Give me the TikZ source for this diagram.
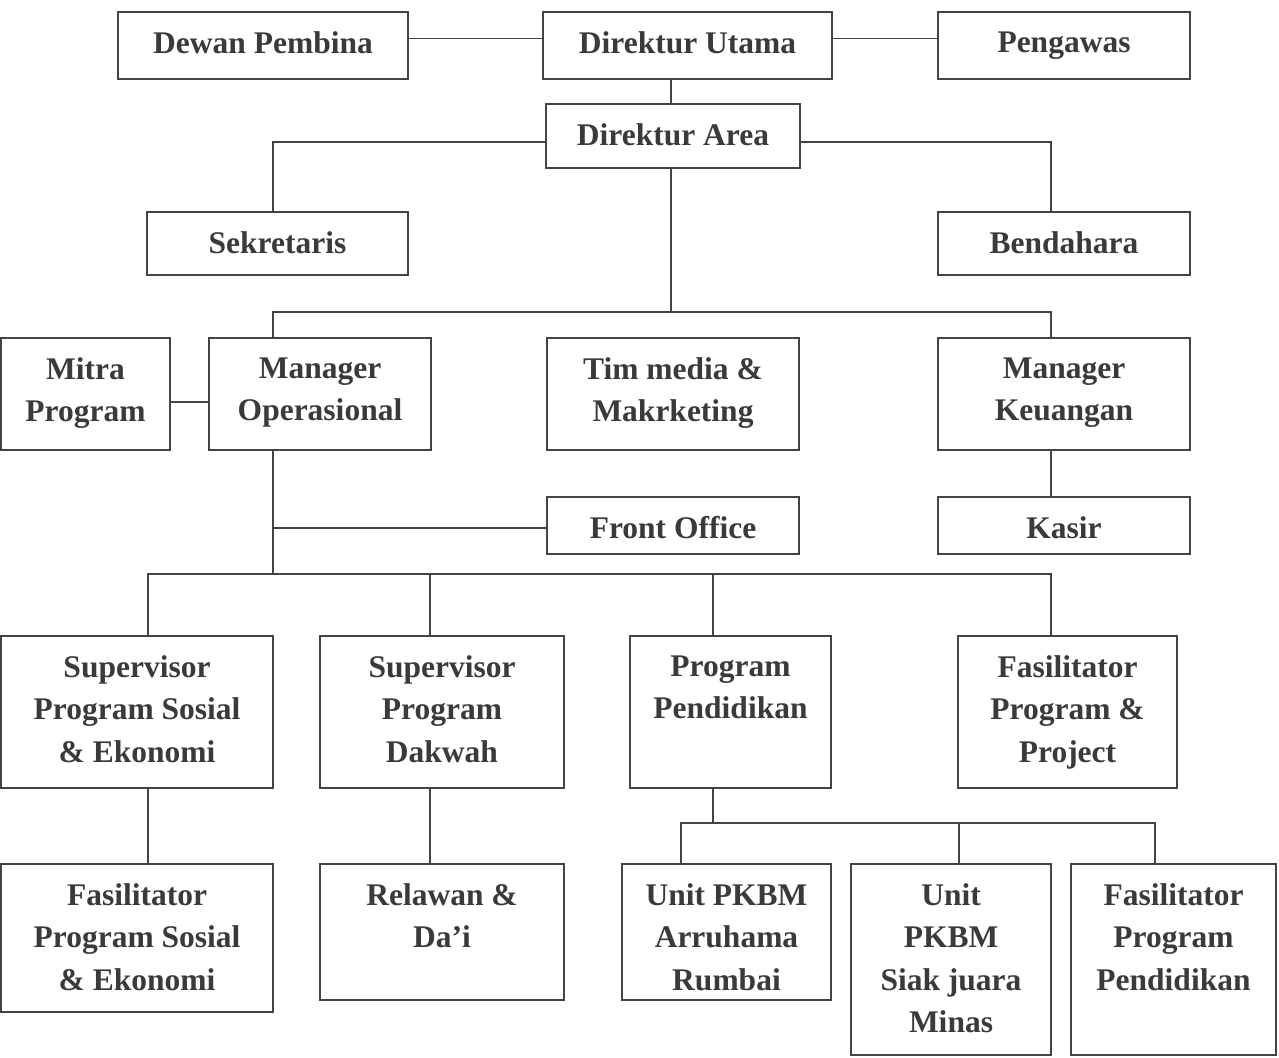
\documentclass[tikz,border=0pt]{standalone}
\usepackage{fontspec}
\setmainfont{Liberation Serif}
\usetikzlibrary{calc}
\definecolor{ink}{HTML}{444444}
\definecolor{txt}{HTML}{3A3A3A}
\begin{document}
\begin{tikzpicture}[x=1pt,y=-1pt,
  box/.style={draw=ink,line width=1.7pt,rectangle,anchor=north west,inner sep=0pt,outer sep=0pt},
  lbl/.style={anchor=north,yshift=-19.4pt,inner sep=0pt,align=center,text=txt,
    font=\fontsize{31.5}{42.5}\selectfont\bfseries},
  con/.style={draw=ink,line width=1.7pt}]
\useasboundingbox (0,0) rectangle (1279,1057);
\fill[white] (0,0) rectangle (1279,1057);
% boxes
\node[box,minimum width=290pt,minimum height=67pt,label={[lbl]north:Dewan Pembina}] (dewan) at (118,12) {};
\node[box,minimum width=289pt,minimum height=67pt,label={[lbl]north:Direktur Utama}] (dirut) at (543,12) {};
\node[box,minimum width=252pt,minimum height=67pt,label={[lbl]north:Pengawas}] (pengawas) at (938,12) {};
\node[box,minimum width=254pt,minimum height=64pt,label={[lbl]north:Direktur Area}] (dirarea) at (546,104) {};
\node[box,minimum width=261pt,minimum height=63pt,label={[lbl]north:Sekretaris}] (sekretaris) at (147,212) {};
\node[box,minimum width=252pt,minimum height=63pt,label={[lbl]north:Bendahara}] (bendahara) at (938,212) {};
\node[box,minimum width=169pt,minimum height=112pt,label={[lbl]north:{Mitra\\Program}}] (mitra) at (1,338) {};
\node[box,minimum width=222pt,minimum height=112pt,label={[lbl]north:{Manager\\Operasional}}] (manop) at (209,338) {};
\node[box,minimum width=252pt,minimum height=112pt,label={[lbl]north:{Tim media \&\\Makrketing}}] (timmedia) at (547,338) {};
\node[box,minimum width=252pt,minimum height=112pt,label={[lbl]north:{Manager\\Keuangan}}] (mankeu) at (938,338) {};
\node[box,minimum width=252pt,minimum height=57pt,label={[lbl]north:Front Office}] (frontoffice) at (547,497) {};
\node[box,minimum width=252pt,minimum height=57pt,label={[lbl]north:Kasir}] (kasir) at (938,497) {};
\node[box,minimum width=272pt,minimum height=152pt,label={[lbl]north:{Supervisor\\Program Sosial\\\& Ekonomi}}] (suppse) at (1,636) {};
\node[box,minimum width=244pt,minimum height=152pt,label={[lbl]north:{Supervisor\\Program\\Dakwah}}] (supdakwah) at (320,636) {};
\node[box,minimum width=201pt,minimum height=152pt,label={[lbl]north:{Program\\Pendidikan}}] (progpend) at (630,636) {};
\node[box,minimum width=219pt,minimum height=152pt,label={[lbl]north:{Fasilitator\\Program \&\\Project}}] (fasilpp) at (958,636) {};
\node[box,minimum width=272pt,minimum height=148pt,label={[lbl]north:{Fasilitator\\Program Sosial\\\& Ekonomi}}] (fasilpse) at (1,864) {};
\node[box,minimum width=244pt,minimum height=136pt,label={[lbl]north:{Relawan \&\\Da’i}}] (relawan) at (320,864) {};
\node[box,minimum width=209pt,minimum height=136pt,label={[lbl]north:{Unit PKBM\\Arruhama\\Rumbai}}] (arruhama) at (622,864) {};
\node[box,minimum width=200pt,minimum height=191pt,label={[lbl]north:{Unit\\PKBM\\Siak juara\\Minas}}] (siak) at (851,864) {};
\node[box,minimum width=205pt,minimum height=191pt,label={[lbl]north:{Fasilitator\\Program\\Pendidikan}}] (fasilpend) at (1071,864) {};
% connectors
\draw[con] ([yshift=7pt]dewan.east) -- ([yshift=7pt]dirut.west);
\draw[con] ([yshift=7pt]dirut.east) -- ([yshift=7pt]pengawas.west);
\draw[con] ([xshift=-2pt]dirarea.north) -- ([xshift=-2pt]dirarea.north |- dirut.south);
\draw[con] ([yshift=-6pt]dirarea.west) -| ([xshift=-4.5pt]sekretaris.north);
\draw[con] ([yshift=-6pt]dirarea.east) -| ([xshift=-13pt]bendahara.north);
\coordinate (j1) at ($(dirarea.south)+(-2,144)$);
\draw[con] ([xshift=-2pt]dirarea.south) -- (j1);
\draw[con] ([xshift=-47pt]manop.north) -- ++(0,-26) -| ([xshift=-13pt]mankeu.north);
\draw[con] ([yshift=-8pt]mitra.east) -- ([yshift=-8pt]manop.west);
\draw[con] ([xshift=-13pt]mankeu.south) -- ([xshift=-13pt]kasir.north);
\coordinate (j2) at ($(manop.south)+(-47,124)$);
\draw[con] ([xshift=-47pt]manop.south) -- (j2);
\draw[con] ([yshift=-2.5pt]frontoffice.west) -- ([yshift=-2.5pt]frontoffice.west -| j2);
\draw[con] ([xshift=11pt]suppse.north) -- ++(0,-62) -| ([xshift=-16.5pt]fasilpp.north);
\draw[con] ([xshift=-12pt]supdakwah.north) -- ([xshift=-12pt]supdakwah.north |- j2);
\draw[con] ([xshift=-17.5pt]progpend.north) -- ([xshift=-17.5pt]progpend.north |- j2);
\draw[con] ([xshift=11pt]suppse.south) -- ([xshift=11pt]fasilpse.north);
\draw[con] ([xshift=-12pt]supdakwah.south) -- ([xshift=-12pt]relawan.north);
\coordinate (j3) at ($(progpend.south)+(-17.5,35)$);
\draw[con] ([xshift=-17.5pt]progpend.south) -- (j3);
\draw[con] ([xshift=-45.5pt]arruhama.north) -- ++(0,-41) -| ([xshift=-18.5pt]fasilpend.north);
\draw[con] ([xshift=8pt]siak.north) -- ([xshift=8pt]siak.north |- j3);
\end{tikzpicture}
\end{document}
